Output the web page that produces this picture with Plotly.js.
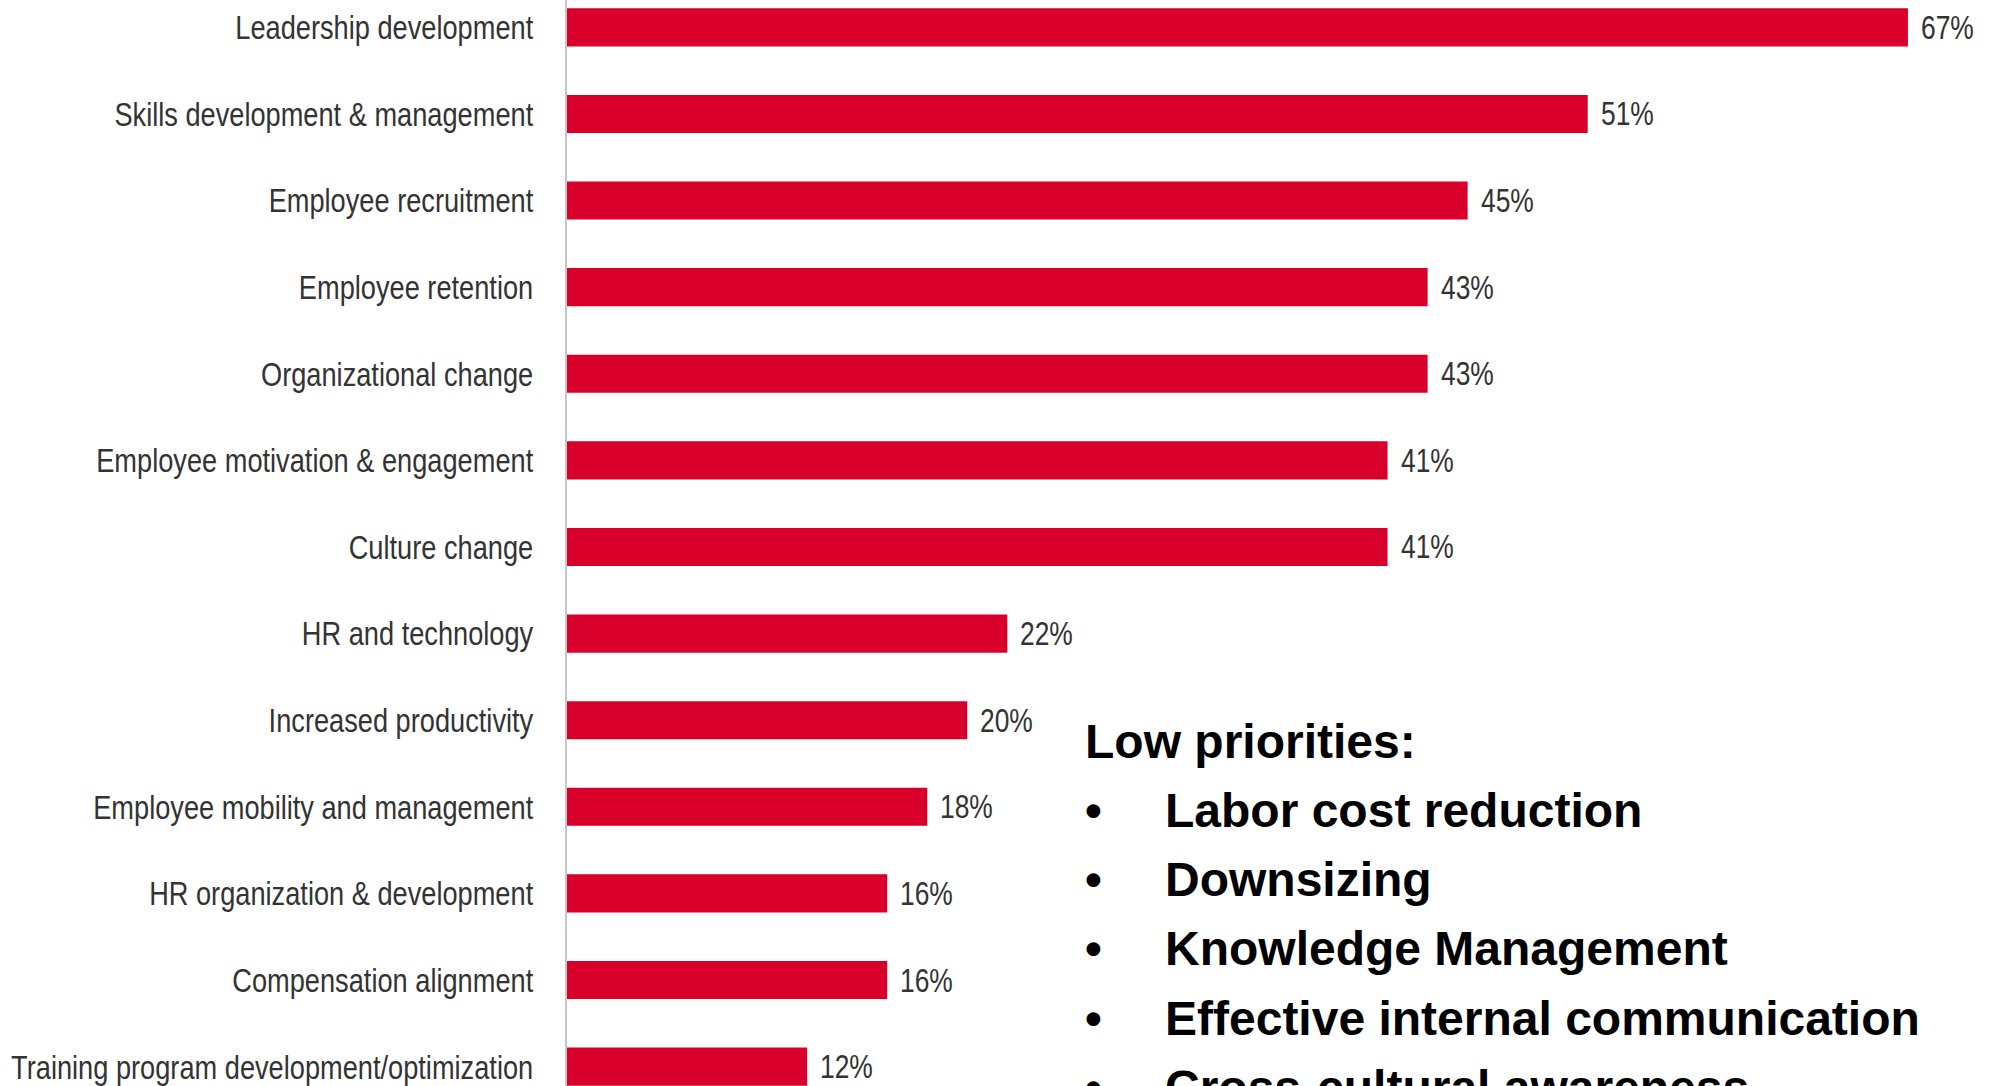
<!DOCTYPE html>
<html>
<head>
<meta charset="utf-8">
<script src="https://cdn.plot.ly/plotly-3.0.1.min.js"></script>
<style>
  html, body { margin: 0; padding: 0; background: #ffffff; }
  #chart { width: 1996px; height: 1086px; }
</style>
</head>
<body>
<div id="chart"></div>
<script>
// ---- data ----
const categories = [
  "Leadership development",
  "Skills development & management",
  "Employee recruitment",
  "Employee retention",
  "Organizational change",
  "Employee motivation & engagement",
  "Culture change",
  "HR and technology",
  "Increased productivity",
  "Employee mobility and management",
  "HR organization & development",
  "Compensation alignment",
  "Training program development/optimization"
];
const values = [67, 51, 45, 43, 43, 41, 41, 22, 20, 18, 16, 16, 12];
const valueLabels = ["67%", "51%", "45%", "43%", "43%", "41%", "41%", "22%", "20%", "18%", "16%", "16%", "12%"];

const noteTitle = "Low priorities:";
const noteItems = [
  "Labor cost reduction",
  "Downsizing",
  "Knowledge Management",
  "Effective internal communication",
  "Cross-cultural awareness"
];

// ---- styling ----
const W = 1996, H = 1086;
const L = 567;
const sans = '"Liberation Sans", Arial, sans-serif';
const NARROW_TICK = 0.8;   // horizontal squeeze to imitate a narrow face
const NARROW_VAL = 0.8;

const trace = {
  type: 'bar',
  orientation: 'h',
  x: values,
  y: categories,
  width: 0.44,
  marker: { color: '#d8002b', line: { width: 0 } },
  hoverinfo: 'skip'
};

const annotations = [];
values.forEach((v, i) => {
  annotations.push({
    x: v, y: categories[i], xref: 'x', yref: 'y',
    text: valueLabels[i], showarrow: false,
    xanchor: 'left', yanchor: 'middle', xshift: 11,
    font: { family: sans, size: 33, color: '#333333' }
  });
});

function px2x(px) { return (px - L) / (W - L); }
function py2y(py) { return 1 - py / H; }

const lineBase = 757, lineStep = 69.3;
annotations.push({
  x: px2x(1083), y: py2y(lineBase - 16), xref: 'paper', yref: 'paper',
  text: '<b>' + noteTitle + '</b>', showarrow: false,
  xanchor: 'left', yanchor: 'middle',
  font: { family: sans, size: 48, color: '#000000' }
});
noteItems.forEach((t, i) => {
  const yb = lineBase + lineStep * (i + 1) - 16;
  annotations.push({
    x: px2x(1083), y: py2y(yb), xref: 'paper', yref: 'paper',
    text: '<b>•</b>', showarrow: false,
    xanchor: 'left', yanchor: 'middle',
    font: { family: sans, size: 48, color: '#000000' }
  });
  annotations.push({
    x: px2x(1163), y: py2y(yb), xref: 'paper', yref: 'paper',
    text: '<b>' + t + '</b>', showarrow: false,
    xanchor: 'left', yanchor: 'middle',
    font: { family: sans, size: 48, color: '#000000' }
  });
});

const layout = {
  width: W, height: H,
  margin: { l: L, r: 0, t: 0, b: 0, pad: 0 },
  paper_bgcolor: '#ffffff',
  plot_bgcolor: '#ffffff',
  showlegend: false,
  xaxis: {
    range: [0, 71.4], visible: false, fixedrange: true
  },
  yaxis: {
    type: 'category',
    categoryorder: 'array', categoryarray: categories,
    range: [12.224, -0.316], autorange: false,
    showline: true, linecolor: '#c6c6c6', linewidth: 2,
    showgrid: false, zeroline: false, ticks: '',
    ticklabelstandoff: 25,
    tickfont: { family: sans, size: 34, color: '#333333' }
  },
  annotations: annotations
};

function squeeze(el, f) {
  const w = el.getComputedTextLength();
  el.setAttribute('textLength', (w * f).toFixed(2));
  el.setAttribute('lengthAdjust', 'spacingAndGlyphs');
}

Plotly.newPlot('chart', [trace], layout, { staticPlot: true, displayModeBar: false }).then(gd => {
  gd.querySelectorAll('.ytick text').forEach(t => squeeze(t, NARROW_TICK));
  for (let i = 0; i < values.length; i++) {
    const g = gd.querySelector('g.annotation[data-index="' + i + '"]');
    if (!g) continue;
    const t = g.querySelector('text');
    const w = t.getComputedTextLength();
    squeeze(t, NARROW_VAL);
    // keep the left edge where it was (text is centred in its box)
    const dx = -(w - w * NARROW_VAL) / 2;
    const x0 = parseFloat(t.getAttribute('x') || '0');
    t.setAttribute('x', (x0 + dx).toFixed(2));
  }
});
</script>
</body>
</html>
